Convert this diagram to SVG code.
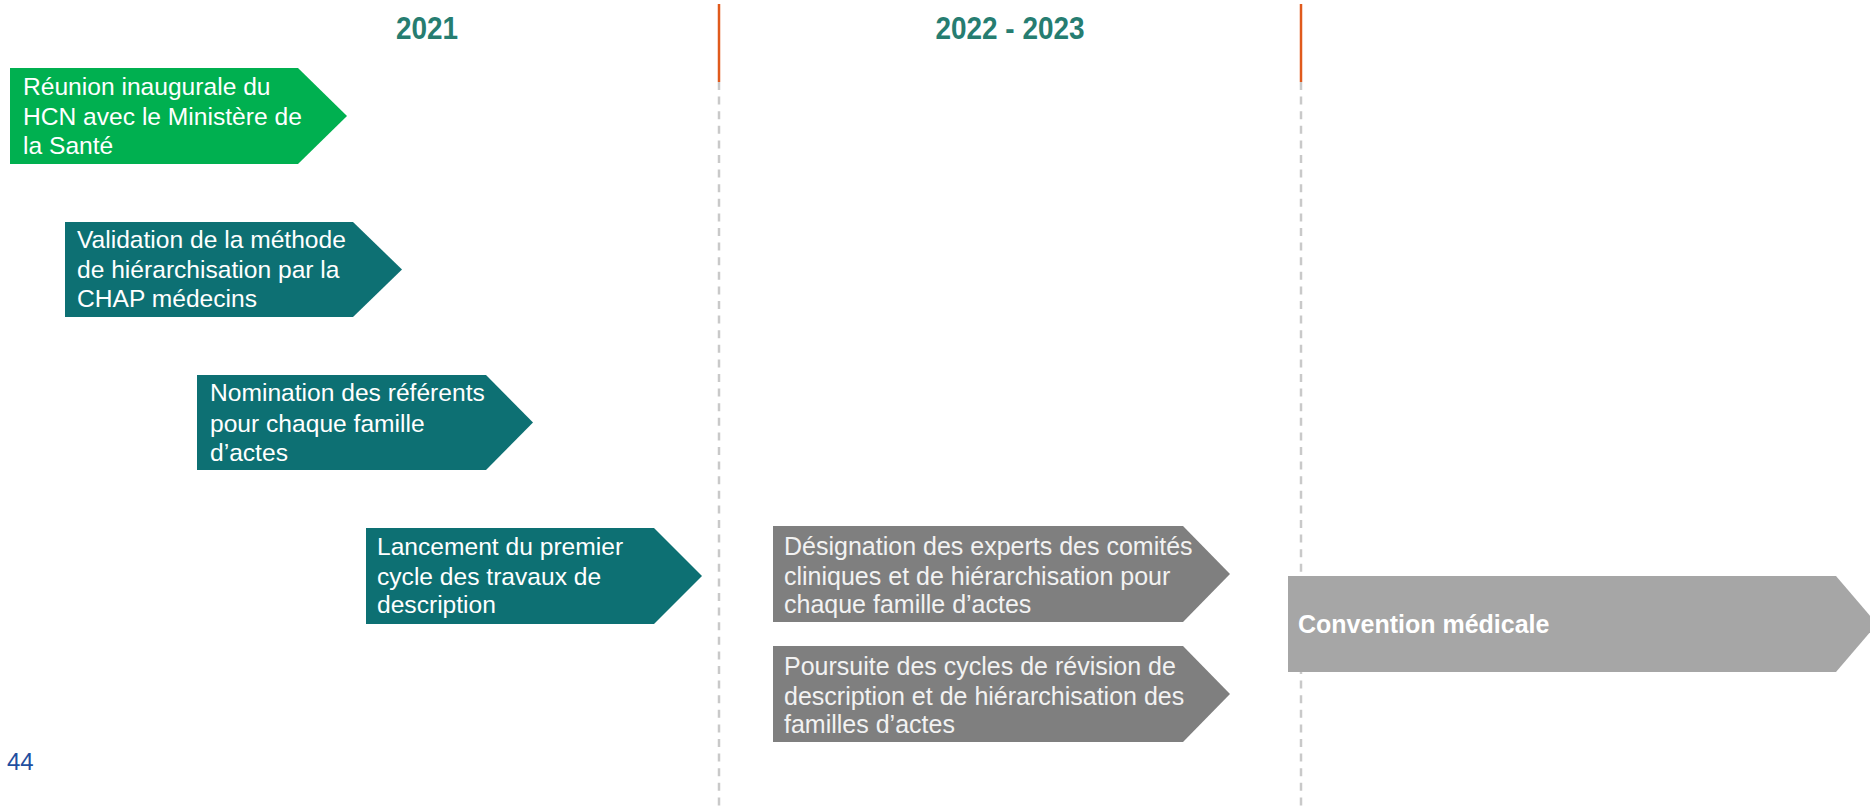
<svg xmlns="http://www.w3.org/2000/svg" width="1870" height="810" viewBox="0 0 1870 810">
<style>
.t{font-family:"Liberation Sans",Arial,sans-serif;font-size:24.6px;fill:#ffffff}
.tg{font-family:"Liberation Sans",Arial,sans-serif;font-size:25px;fill:#f2f2f2}
.hd{font-family:"Liberation Sans",Arial,sans-serif;font-size:31px;font-weight:bold;fill:#267d71;text-anchor:middle}
.green{fill:#00b050}
.teal{fill:#0d7073}
.gray{fill:#7f7f7f}
.lgray{fill:#a6a6a6}
.or{stroke:#e05a1c;stroke-width:2.5;fill:none}
.dash{stroke:#c9c9c9;stroke-width:2.5;stroke-dasharray:8 6.6;fill:none}
</style>
<rect width="1870" height="810" fill="#ffffff"/>
<g id="timeline">
<line class="or" x1="719" y1="4" x2="719" y2="82"/>
<line class="dash" x1="719" y1="82" x2="719" y2="808"/>
<line class="or" x1="1301" y1="4" x2="1301" y2="82"/>
<line class="dash" x1="1301" y1="82" x2="1301" y2="808"/>
</g>
<g id="headers">
<text class="hd" transform="translate(427,39) scale(0.9,1)" x="0" y="0">2021</text>
<text class="hd" transform="translate(1010,39) scale(0.9,1)" x="0" y="0">2022 - 2023</text>
</g>
<g id="connectors"></g>
<g id="n1">
<polygon class="green" points="10,68 298,68 347,116 298,164 10,164"/>
<text class="t"><tspan x="23" y="95">Réunion inaugurale du</tspan><tspan x="23" y="125">HCN avec le Ministère de</tspan><tspan x="23" y="154">la Santé</tspan></text>
</g>
<g id="n2">
<polygon class="teal" points="65,222 353,222 402,269.5 353,317 65,317"/>
<text class="t"><tspan x="77" y="248">Validation de la méthode</tspan><tspan x="77" y="278">de hiérarchisation par la</tspan><tspan x="77" y="307">CHAP médecins</tspan></text>
</g>
<g id="n3">
<polygon class="teal" points="197,375 486,375 533,422.5 486,470 197,470"/>
<text class="t"><tspan x="210" y="401">Nomination des référents</tspan><tspan x="210" y="432">pour chaque famille</tspan><tspan x="210" y="461">d’actes</tspan></text>
</g>
<g id="n4">
<polygon class="teal" points="366,528 654,528 702,576 654,624 366,624"/>
<text class="t"><tspan x="377" y="555">Lancement du premier</tspan><tspan x="377" y="585">cycle des travaux de</tspan><tspan x="377" y="613">description</tspan></text>
</g>
<g id="n5">
<polygon class="gray" points="773,526 1183,526 1230,574 1183,622 773,622"/>
<text class="tg"><tspan x="784" y="555">Désignation des experts des comités</tspan><tspan x="784" y="585">cliniques et de hiérarchisation pour</tspan><tspan x="784" y="613">chaque famille d’actes</tspan></text>
</g>
<g id="n6">
<polygon class="gray" points="773,646 1183,646 1230,694 1183,742 773,742"/>
<text class="tg"><tspan x="784" y="675">Poursuite des cycles de révision de</tspan><tspan x="784" y="705">description et de hiérarchisation des</tspan><tspan x="784" y="733">familles d’actes</tspan></text>
</g>
<g id="n7">
<polygon class="lgray" points="1288,576 1836,576 1877,624 1836,672 1288,672"/>
<text x="1298" y="633" style="font-family:'Liberation Sans',Arial,sans-serif;font-size:25px;font-weight:bold;fill:#ffffff">Convention médicale</text>
</g>
<g id="page">
<text x="7" y="770" style="font-family:'Liberation Sans',Arial,sans-serif;font-size:24px;fill:#1f4fa0">44</text>
</g>
</svg>
